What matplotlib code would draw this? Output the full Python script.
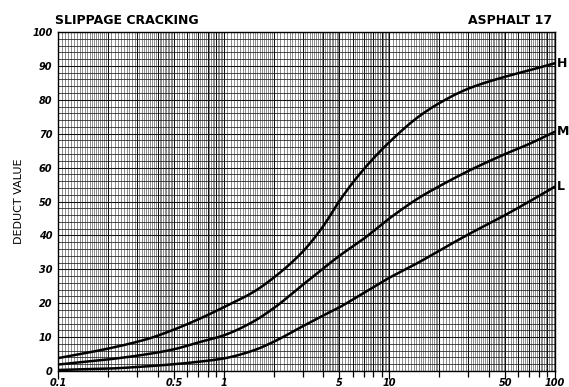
import numpy as np
import matplotlib
matplotlib.use('Agg')
import matplotlib.pyplot as plt
from matplotlib.ticker import FixedLocator, NullFormatter

# density (%), with deduct values for each severity
density = [0.1, 0.2, 0.35, 0.5, 0.7, 1, 1.5, 2, 3, 4, 5, 7, 10, 15, 20, 30, 50, 70, 100]
deduct_high = [3.8, 6.6, 9.5, 12.2, 15.2, 18.8, 23.2, 27.5, 35.2, 42.8, 50.2, 59.5,
               67.5, 75.0, 79.0, 83.3, 86.8, 88.7, 90.8]
deduct_medium = [1.9, 3.4, 5.0, 6.4, 8.4, 10.5, 14.5, 18.5, 25.4, 30.3, 34.0, 39.0,
                 45.0, 51.0, 54.5, 59.0, 64.0, 67.0, 70.6]
deduct_low = [0.3, 0.7, 1.4, 2.0, 2.7, 3.7, 6.0, 8.6, 13.2, 16.4, 18.8, 23.0,
              27.5, 32.0, 35.5, 40.3, 46.0, 50.0, 54.4]
severity = ['H', 'M', 'L']

x_labels = ['0.1', '0.5', '1', '5', '10', '50', '100']
y_labels = ['0', '10', '20', '30', '40', '50', '60', '70', '80', '90', '100']


def smooth(xs, ys, n=400):
    # monotone cubic hermite in log-x, just to draw a smooth curve
    lx = np.log10(xs)
    ys = np.asarray(ys, dtype=float)
    h = np.diff(lx)
    d = np.diff(ys) / h
    m = np.zeros_like(ys)
    m[0], m[-1] = d[0], d[-1]
    for i in range(1, len(ys) - 1):
        if d[i - 1] * d[i] <= 0:
            m[i] = 0
        else:
            w1 = 2 * h[i] + h[i - 1]
            w2 = h[i] + 2 * h[i - 1]
            m[i] = (w1 + w2) / (w1 / d[i - 1] + w2 / d[i])
    xx = np.linspace(lx[0], lx[-1], n)
    k = np.clip(np.searchsorted(lx, xx) - 1, 0, len(lx) - 2)
    t = (xx - lx[k]) / h[k]
    h00 = 2 * t**3 - 3 * t**2 + 1
    h10 = t**3 - 2 * t**2 + t
    h01 = -2 * t**3 + 3 * t**2
    h11 = t**3 - t**2
    yy = h00 * ys[k] + h10 * h[k] * m[k] + h01 * ys[k + 1] + h11 * h[k] * m[k + 1]
    return 10**xx, yy


fig = plt.figure(figsize=(5.69, 3.87), dpi=100)
fig.patch.set_facecolor('white')
ax = fig.add_axes([58 / 569, 16 / 387, 497 / 569, 339 / 387])

ax.set_xscale('log')
ax.set_xlim(0.1, 100)
ax.set_ylim(0, 100)

# log paper style grid
fine = []
for dec in [0.1, 1, 10]:
    fine += list(np.arange(1, 2, 0.05) * dec)
    fine += list(np.arange(2, 5, 0.1) * dec)
    fine += list(np.arange(5, 10, 0.2) * dec)
major_x = []
for dec in [0.1, 1, 10]:
    major_x += [m * dec for m in range(1, 10)]
major_x.append(100)

ax.xaxis.set_major_locator(FixedLocator(major_x))
ax.xaxis.set_minor_locator(FixedLocator(fine))
ax.xaxis.set_minor_formatter(NullFormatter())
ax.set_xticklabels([l if l in x_labels else '' for l in
                    [('%g' % v) for v in major_x]])

ax.yaxis.set_major_locator(FixedLocator([float(v) for v in y_labels]))
ax.yaxis.set_minor_locator(FixedLocator(np.arange(0, 101, 2)))
ax.set_yticklabels(y_labels)

ax.grid(True, which='minor', axis='x', color='#333333', linewidth=0.5, alpha=0.8)
ax.grid(True, which='minor', axis='y', color='#1a1a1a', linewidth=0.6, alpha=0.9)
ax.grid(True, which='major', color='#111111', linewidth=0.75)
ax.set_axisbelow(True)

ax.tick_params(axis='x', which='major', direction='out', length=4, width=0.9,
               pad=1, labelsize=7)
ax.tick_params(axis='x', which='minor', length=0)
ax.tick_params(axis='y', which='both', length=0, pad=4, labelsize=7)
for t in ax.xaxis.get_major_ticks():
    if t.label1.get_text() in x_labels:
        t.tick1line.set_markersize(6)
for lab in ax.get_xticklabels() + ax.get_yticklabels():
    lab.set_fontweight('bold')
    lab.set_fontstyle('italic')

for spine in ax.spines.values():
    spine.set_linewidth(1.0)
    spine.set_color('black')

for vals, name in zip([deduct_high, deduct_medium, deduct_low], severity):
    sx, sy = smooth(density, vals)
    ax.plot(sx, sy, color='black', linewidth=1.8, solid_capstyle='round')
    ax.annotate(name, xy=(density[-1], vals[-1]), xytext=(1.5, 0),
                textcoords='offset points', va='center', ha='left',
                fontsize=9, fontweight='bold', annotation_clip=False)

ax.set_ylabel('DEDUCT VALUE', fontsize=8, labelpad=6,
              family=['Liberation Sans Narrow', 'DejaVu Sans'])

fig.text(55 / 569, 1 - 20 / 387, 'SLIPPAGE CRACKING', fontsize=9,
         fontweight='bold', ha='left', va='center')
fig.text(552 / 569, 1 - 20 / 387, 'ASPHALT 17', fontsize=9,
         fontweight='bold', ha='right', va='center')

fig.savefig('out.png', dpi=100)
